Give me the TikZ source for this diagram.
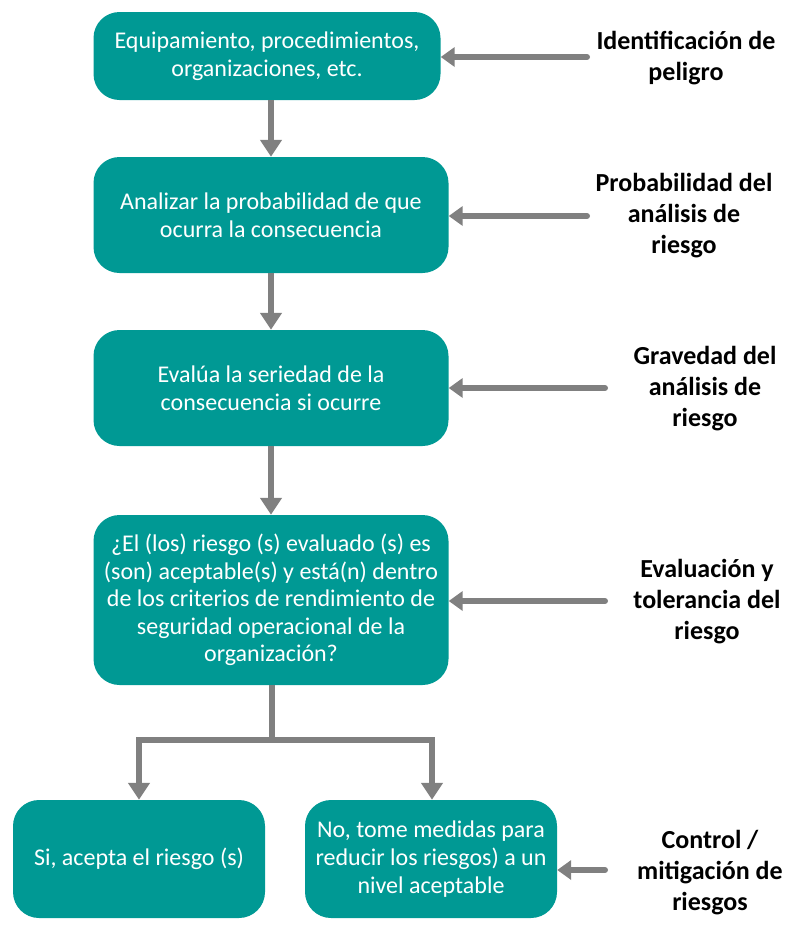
\documentclass[tikz,border=0pt]{standalone}
\usepackage{fontspec}
\setmainfont{Carlito}
\usetikzlibrary{arrows.meta}
\definecolor{teal1}{HTML}{009994}
\definecolor{arrowgray}{HTML}{808080}
\tikzset{
  box/.style={rectangle, rounded corners=26pt, fill=teal1, text=white, align=center,
    font=\fontsize{24}{28}\selectfont, inner sep=0pt},
  lbl/.style={align=center, font=\bfseries\fontsize{26}{31}\selectfont, text=black},
  conn/.style={draw=arrowgray, line width=6pt, -{Triangle[length=17pt,width=21pt]}},
  side/.style={draw=arrowgray, line width=6pt, line cap=round, -{Triangle[length=14pt,width=19pt]}},
}
\begin{document}
\begin{tikzpicture}[x=1pt,y=-1pt]
\useasboundingbox (0,0) rectangle (792,943);
\node[box, minimum width=347pt, minimum height=88pt] (b1) at (267,56) {Equipamiento, procedimientos,\\organizaciones, etc.};
\node[box, minimum width=355pt, minimum height=116pt] (b2) at (271,215) {Analizar la probabilidad de que\\ocurra la consecuencia};
\node[box, minimum width=355pt, minimum height=116pt] (b3) at (271,388) {Evalúa la seriedad de la\\consecuencia si ocurre};
\node[box, minimum width=355pt, minimum height=170pt, font=\fontsize{24}{27.5}\selectfont] (b4) at (271,600) {¿El (los) riesgo (s) evaluado (s) es\\(son) aceptable(s) y está(n) dentro\\de los criterios de rendimiento de\\seguridad operacional de la\\organización?};
\node[box, minimum width=252pt, minimum height=118pt] (b5) at (139,859) {Si, acepta el riesgo (s)};
\node[box, minimum width=252pt, minimum height=118pt] (b6) at (431,859) {No, tome medidas para\\reducir los riesgos) a un\\nivel aceptable};

\node[lbl] (l1) at (686,58) {Identificación de\\peligro};
\node[lbl] (l2) at (684,216) {Probabilidad del\\análisis de\\riesgo};
\node[lbl] (l3) at (705,389) {Gravedad del\\análisis de\\riesgo};
\node[lbl] (l4) at (707,602) {Evaluación y\\tolerancia del\\riesgo};
\node[lbl] (l5) at (710,873) {Control /\\mitigación de\\riesgos};

\coordinate (s1) at (587,57);
\coordinate (s2) at (587,216);
\coordinate (s3) at (605,388);
\coordinate (s4) at (605,601);
\coordinate (s5) at (605,870);

\draw[side] (s1) -- (s1 -| b1.east);
\draw[side] (s2) -- (s2 -| b2.east);
\draw[side] (s3) -- (s3 -| b3.east);
\draw[side] (s4) -- (s4 -| b4.east);
\draw[side] (s5) -- (s5 -| b6.east);

\draw[conn] (b1.south -| 271,0) -- (b2.north -| 271,0);
\draw[conn] (b2.south -| 271,0) -- (b3.north -| 271,0);
\draw[conn] (b3.south -| 271,0) -- (b4.north -| 271,0);

\coordinate (j) at (272,740);
\draw[draw=arrowgray, line width=6pt] (b4.south -| j) -- (j);
\draw[conn] (j) -| (b5.north -| 139,0);
\draw[conn] (j) -| (b6.north -| 432,0);
\end{tikzpicture}
\end{document}
